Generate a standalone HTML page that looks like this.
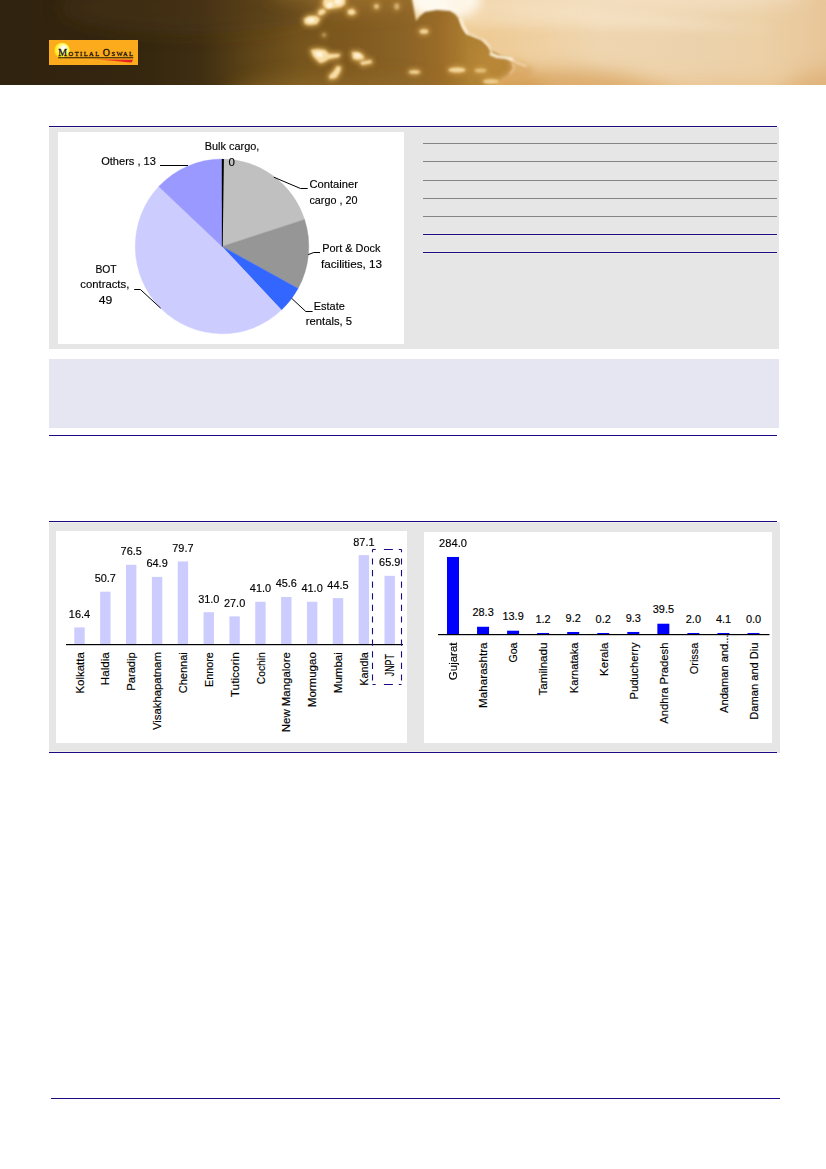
<!DOCTYPE html>
<html><head><meta charset="utf-8"><title>page</title>
<style>
html,body{margin:0;padding:0;background:#fff;}
body{width:826px;height:1169px;position:relative;overflow:hidden;font-family:"Liberation Sans",sans-serif;}
.abs{position:absolute;}
svg{position:absolute;left:0;top:0;}
text{font-family:"Liberation Sans",sans-serif;}
text.lg{font-family:"Liberation Serif",serif;}
</style></head><body>
<svg width="826" height="85" viewBox="0 0 826 85" style="overflow:hidden">
<defs>
<linearGradient id="hg" x1="0" y1="0" x2="826" y2="0" gradientUnits="userSpaceOnUse">
<stop offset="0" stop-color="#30230f"/>
<stop offset="0.12" stop-color="#33250f"/>
<stop offset="0.182" stop-color="#36280f"/>
<stop offset="0.242" stop-color="#3f2e12"/>
<stop offset="0.303" stop-color="#5e4417"/>
<stop offset="0.363" stop-color="#76551d"/>
<stop offset="0.424" stop-color="#7f591f"/>
<stop offset="0.484" stop-color="#8a6226"/>
<stop offset="0.533" stop-color="#9a6c28"/>
<stop offset="0.569" stop-color="#ae8032"/>
<stop offset="0.64" stop-color="#b08234"/>
</linearGradient>
<linearGradient id="sg" x1="0" y1="0" x2="826" y2="0" gradientUnits="userSpaceOnUse">
<stop offset="0.49" stop-color="#f2d29c"/>
<stop offset="0.593" stop-color="#eecb96"/>
<stop offset="0.655" stop-color="#efd0a2"/>
<stop offset="0.727" stop-color="#efd6b0"/>
<stop offset="0.80" stop-color="#eed4ae"/>
<stop offset="0.85" stop-color="#ecd2ac"/>
<stop offset="0.92" stop-color="#ecd0a6"/>
<stop offset="1" stop-color="#e8c699"/>
</linearGradient>
<filter id="b1" x="-20%" y="-20%" width="140%" height="140%"><feGaussianBlur stdDeviation="1.1"/></filter>
<filter id="b2" x="-20%" y="-20%" width="140%" height="140%"><feGaussianBlur stdDeviation="2.5"/></filter>
<filter id="b4" x="-30%" y="-30%" width="160%" height="160%"><feGaussianBlur stdDeviation="5"/></filter>
<filter id="b8" x="-30%" y="-30%" width="160%" height="160%"><feGaussianBlur stdDeviation="9"/></filter>
<filter id="e1" x="0" y="0" width="826" height="85" filterUnits="userSpaceOnUse"><feGaussianBlur stdDeviation="0.9"/></filter>
<mask id="skym" maskUnits="userSpaceOnUse" x="0" y="0" width="826" height="85">
<path filter="url(#e1)" fill="#fff" d="M411,-6 L414,10 L416,21 L420,16 L425,12 L437,10 L450,11 L455,14 L459,19 L462,27 L465,32 L472,36 L481,39 L487,45 L492,51 L500,55 L508,57 L511,62 L513,68 L508,75 L500,80 L488,92 L840,92 L840,-6 Z"/>
</mask>
<radialGradient id="sun" cx="0.5" cy="0.5" r="0.5" fx="0.66" fy="0.28">
<stop offset="0" stop-color="#ffffff"/><stop offset="0.25" stop-color="#fffde0"/><stop offset="0.6" stop-color="#fff780"/><stop offset="0.88" stop-color="#ffe818"/><stop offset="1" stop-color="#fdc41a"/>
</radialGradient>
<linearGradient id="sw" x1="94" y1="0" x2="133" y2="0" gradientUnits="userSpaceOnUse">
<stop offset="0" stop-color="#f58a1c"/><stop offset="0.45" stop-color="#ee3a1e"/><stop offset="1" stop-color="#e31b23"/>
</linearGradient>
</defs>
<rect x="0" y="0" width="826" height="85" fill="url(#hg)"/>
<!-- cloud shading -->
<g filter="url(#b8)">
<ellipse cx="355" cy="-10" rx="85" ry="22" fill="#ac7e32" opacity="0.45"/>
<ellipse cx="190" cy="8" rx="130" ry="26" fill="#4e3a16" opacity="0.4"/>
<ellipse cx="340" cy="96" rx="110" ry="20" fill="#9a742c" opacity="0.45"/>
<ellipse cx="494" cy="62" rx="22" ry="22" fill="#c8923e" opacity="0.38"/>
</g>
<!-- sky -->
<g mask="url(#skym)">
<rect x="400" y="0" width="426" height="85" fill="url(#sg)"/>
<g filter="url(#b8)">
<ellipse cx="560" cy="104" rx="120" ry="34" fill="#d6a05a" opacity="0.8"/>
<ellipse cx="505" cy="92" rx="40" ry="20" fill="#cf9648" opacity="0.6"/>
<ellipse cx="690" cy="102" rx="150" ry="22" fill="#e6b474" opacity="0.45"/>
<ellipse cx="640" cy="-8" rx="170" ry="22" fill="#f6e6cc" opacity="0.55"/>
<ellipse cx="836" cy="98" rx="55" ry="30" fill="#d49a54" opacity="0.4"/>
</g>
<g filter="url(#b4)">
<ellipse cx="445" cy="0" rx="36" ry="20" fill="#fffaf0"/>
<path d="M440,-4 L600,8 L780,30 L600,28 L470,26 Z" fill="#fbecd4" opacity="0.4"/>
</g>
</g>
<!-- wisps -->
<g filter="url(#b2)">
<path d="M508,58 L522,62 L534,70 L528,78 L512,82 L500,86 L496,80 L510,70 Z" fill="#d8a660" opacity="0.65"/>
</g>
<!-- cloud rim light -->
<g filter="url(#b1)" fill="none" stroke="#fdf0d8" stroke-linecap="round" stroke-linejoin="round">
<path d="M460.5,19 L463.5,27 L467.5,33.5" stroke-width="3"/>
<path d="M467.5,33.5 L475,36.5 L483,40 L489,46 L491.5,52" stroke-width="1.8"/>
<path d="M491,54 L497,56.5 L506,57.5 L512,59.5" stroke-width="3"/>
<path d="M512,60 L519,63.5 L526,66" stroke-width="1.5" opacity="0.7"/>
<path d="M513,64 L514,69 L510,74" stroke-width="1.2" opacity="0.5"/>
</g>
<!-- bright spots -->
<g filter="url(#b2)" fill="#dcaa54" opacity="0.75">
<path d="M324,-2 L345,-2 L345,4 L341,7 L335,8 L329,9 L325,8 L323,4 Z" stroke="#dcaa54" stroke-width="4" stroke-linejoin="round"/>
<path d="M319,10 L324,9 L326,12 L322,15 L318,15 Z" stroke="#dcaa54" stroke-width="4" stroke-linejoin="round"/>
<path d="M348,10 L353,9 L356,13 L352,15 L348,14 Z" stroke="#dcaa54" stroke-width="4" stroke-linejoin="round"/>
<path d="M304,19 L309,16 L316,16 L320,19 L317,24 L310,25 L305,24 Z" stroke="#dcaa54" stroke-width="4" stroke-linejoin="round"/>
<path d="M311,50 L318,49 L325,50 L329,54 L340,54 L339,57 L329,59 L324,62 L320,63 L316,59 L313,56 Z" stroke="#dcaa54" stroke-width="4" stroke-linejoin="round"/>
<path d="M352,52 L358,52 L363,55 L364,59 L358,60 L353,59 Z" stroke="#dcaa54" stroke-width="4" stroke-linejoin="round"/>
<path d="M360,62 L371,60 L372,63 L362,65 Z" stroke="#dcaa54" stroke-width="4" stroke-linejoin="round"/>
<path d="M337,66 L341,67 L340,72 L336,78 L330,79 L329,76 L334,71 Z" stroke="#dcaa54" stroke-width="4" stroke-linejoin="round"/>
<ellipse cx="414.5" cy="72" rx="7.5" ry="3.8" opacity="0.9"/>
<ellipse cx="424" cy="31.5" rx="6.2" ry="4.2" opacity="0.9"/>
<ellipse cx="457" cy="70" rx="10.5" ry="4.4" opacity="0.9"/>
<ellipse cx="480.5" cy="70.5" rx="8" ry="4" opacity="0.6"/>
<ellipse cx="491" cy="81.5" rx="10" ry="4.6" opacity="0.75"/>
<ellipse cx="376.5" cy="6.5" rx="4.4" ry="4.4" opacity="0.7"/>
<ellipse cx="396.8" cy="6.5" rx="4.4" ry="5.2" opacity="0.5"/>
<ellipse cx="324" cy="35" rx="4" ry="4" opacity="0.4"/>
</g>
<g filter="url(#b1)" fill="#f9dea4">
<path d="M324,-2 L345,-2 L345,4 L341,7 L335,8 L329,9 L325,8 L323,4 Z"/>
<path d="M319,10 L324,9 L326,12 L322,15 L318,15 Z"/>
<path d="M348,10 L353,9 L356,13 L352,15 L348,14 Z"/>
<path d="M304,19 L309,16 L316,16 L320,19 L317,24 L310,25 L305,24 Z"/>
<path d="M311,50 L318,49 L325,50 L329,54 L340,54 L339,57 L329,59 L324,62 L320,63 L316,59 L313,56 Z"/>
<path d="M352,52 L358,52 L363,55 L364,59 L358,60 L353,59 Z"/>
<path d="M360,62 L371,60 L372,63 L362,65 Z"/>
<path d="M337,66 L341,67 L340,72 L336,78 L330,79 L329,76 L334,71 Z"/>
<ellipse cx="414.5" cy="72" rx="5.5" ry="1.8" opacity="0.9"/>
<ellipse cx="424" cy="31.5" rx="4.2" ry="2.2" opacity="0.9"/>
<ellipse cx="457" cy="70" rx="8.5" ry="2.4" opacity="0.9"/>
<ellipse cx="480.5" cy="70.5" rx="6" ry="2" opacity="0.6"/>
<ellipse cx="491" cy="81.5" rx="8" ry="2.6" opacity="0.75"/>
<ellipse cx="376.5" cy="6.5" rx="2.4" ry="2.4" opacity="0.7"/>
<ellipse cx="396.8" cy="6.5" rx="2.4" ry="3.2" opacity="0.5"/>
<ellipse cx="324" cy="35" rx="2" ry="2" opacity="0.4"/>
</g>
<g filter="url(#b1)" fill="#fff6e0">
<path d="M327,3 L333,2 L332,7 L327,8 Z"/><path d="M335,-1 L342,-1 L341,4 L335,4 Z"/><path d="M315,52 L322,52 L323,57 L317,57 Z"/><path d="M355,54 L360,54 L360,57 L355,57 Z"/><path d="M307,19 L314,18 L314,22 L308,22 Z"/>
</g>
<!-- logo -->
<rect x="49" y="40" width="89" height="25" fill="#fcab1c"/>
<circle cx="62.1" cy="50.4" r="8" fill="url(#sun)"/>
<g fill="#120d06" stroke="#120d06" stroke-width="0.28">
<text class="lg" x="58.3" y="55.75" font-size="10.4" textLength="8.8" lengthAdjust="spacingAndGlyphs">M</text>
<text class="lg" x="68.6" y="55.75" font-size="6.4" textLength="30.5" lengthAdjust="spacing">OTILAL</text>
<text class="lg" x="102.8" y="55.75" font-size="10.4" textLength="7.2" lengthAdjust="spacingAndGlyphs">O</text>
<text class="lg" x="111.5" y="55.75" font-size="6.4" textLength="21.4" lengthAdjust="spacing">SWAL</text>
</g>
<rect x="58.1" y="57.3" width="75.2" height="0.95" fill="#120d06"/>
<path d="M94.4,59.3 L133.1,59.7 L131.5,62.6 C120,61.4 105,60.0 94.4,59.5 Z" fill="url(#sw)"/>
</svg>
<svg width="826" height="1169" viewBox="0 0 826 1169" shape-rendering="crispEdges">
<rect x="49" y="127" width="730" height="222" fill="#e6e6e6"/>
<rect x="49" y="126" width="728" height="1" fill="#1b0a84"/>
<rect x="58" y="132" width="346" height="212" fill="#fff"/>
<rect x="423" y="143" width="354" height="1" fill="#858585"/>
<rect x="423" y="161" width="354" height="1" fill="#858585"/>
<rect x="423" y="180" width="354" height="1" fill="#858585"/>
<rect x="423" y="198" width="354" height="1" fill="#858585"/>
<rect x="423" y="216" width="354" height="1" fill="#858585"/>
<rect x="423" y="234" width="354" height="1" fill="#1b0a84"/>
<rect x="423" y="252" width="354" height="1" fill="#1b0a84"/>
<rect x="49" y="127" width="728" height="1" fill="#f0f0ea"/>
<rect x="423" y="233" width="354" height="1" fill="#efefea"/>
<rect x="423" y="235" width="354" height="1" fill="#efefea"/>
<rect x="423" y="251" width="354" height="1" fill="#efefea"/>
<rect x="423" y="253" width="354" height="1" fill="#efefea"/>
<rect x="49" y="359" width="730" height="69" fill="#e6e6f2"/>
<rect x="49" y="435" width="728" height="1" fill="#1b0a84"/>
<rect x="49" y="522" width="731" height="231" fill="#e6e6e6"/>
<rect x="49" y="521" width="728" height="1" fill="#1b0a84"/>
<rect x="49" y="752" width="728" height="1" fill="#1b0a84"/>
<rect x="49" y="522" width="728" height="1" fill="#f0f0ea"/>
<rect x="49" y="751" width="728" height="1" fill="#f0f0ea"/>
<rect x="56" y="531" width="351" height="212" fill="#fff"/>
<rect x="424" y="532" width="348" height="211" fill="#fff"/>
<rect x="51" y="1098" width="729" height="1" fill="#1b0a84"/>
</svg><svg width="826" height="1169" viewBox="0 0 826 1169">
<path d="M222.00,246.40 L222.00,159.00 A86.8,87.4 0 0 1 304.55,219.39 Z" fill="#c0c0c0" stroke="#c0c0c0" stroke-width="0.4"/>
<path d="M222.00,246.40 L304.55,219.39 A86.8,87.4 0 0 1 298.06,288.51 Z" fill="#969696" stroke="#969696" stroke-width="0.4"/>
<path d="M222.00,246.40 L298.06,288.51 A86.8,87.4 0 0 1 281.42,310.11 Z" fill="#3366ff" stroke="#3366ff" stroke-width="0.4"/>
<path d="M222.00,246.40 L281.42,310.11 A86.8,87.4 0 0 1 158.73,186.57 Z" fill="#ccccff" stroke="#ccccff" stroke-width="0.4"/>
<path d="M222.00,246.40 L158.73,186.57 A86.8,87.4 0 0 1 222.00,159.00 Z" fill="#9999ff" stroke="#9999ff" stroke-width="0.4"/>
<path d="M223.90,159.10 L222.70,246.40 L221.90,246.40 L221.80,159.00 Z" fill="#000"/>
<text x="101.2" y="164.9" font-size="11.5" text-anchor="start" textLength="54.7" lengthAdjust="spacingAndGlyphs" fill="#000" stroke="#000" stroke-width="0.16">Others , 13</text>
<text x="204.8" y="149.9" font-size="11.5" text-anchor="start" textLength="54.5" lengthAdjust="spacingAndGlyphs" fill="#000" stroke="#000" stroke-width="0.16">Bulk cargo,</text>
<text x="228.6" y="165.8" font-size="11.5" text-anchor="start" textLength="6.4" lengthAdjust="spacingAndGlyphs" fill="#000" stroke="#000" stroke-width="0.16">0</text>
<text x="309.4" y="188.1" font-size="11.5" text-anchor="start" textLength="48.5" lengthAdjust="spacingAndGlyphs" fill="#000" stroke="#000" stroke-width="0.16">Container</text>
<text x="309.4" y="203.8" font-size="11.5" text-anchor="start" textLength="48.0" lengthAdjust="spacingAndGlyphs" fill="#000" stroke="#000" stroke-width="0.16">cargo , 20</text>
<text x="322.3" y="252.0" font-size="11.5" text-anchor="start" textLength="58.1" lengthAdjust="spacingAndGlyphs" fill="#000" stroke="#000" stroke-width="0.16">Port &amp; Dock</text>
<text x="321.0" y="267.7" font-size="11.5" text-anchor="start" textLength="61.0" lengthAdjust="spacingAndGlyphs" fill="#000" stroke="#000" stroke-width="0.16">facilities, 13</text>
<text x="313.8" y="310.0" font-size="11.5" text-anchor="start" textLength="31.0" lengthAdjust="spacingAndGlyphs" fill="#000" stroke="#000" stroke-width="0.16">Estate</text>
<text x="305.8" y="325.3" font-size="11.5" text-anchor="start" textLength="46.2" lengthAdjust="spacingAndGlyphs" fill="#000" stroke="#000" stroke-width="0.16">rentals, 5</text>
<text x="95.4" y="272.5" font-size="11.5" text-anchor="start" textLength="21.2" lengthAdjust="spacingAndGlyphs" fill="#000" stroke="#000" stroke-width="0.16">BOT</text>
<text x="80.3" y="288.4" font-size="11.5" text-anchor="start" textLength="49.0" lengthAdjust="spacingAndGlyphs" fill="#000" stroke="#000" stroke-width="0.16">contracts,</text>
<text x="98.7" y="303.9" font-size="11.5" text-anchor="start" textLength="13.6" lengthAdjust="spacingAndGlyphs" fill="#000" stroke="#000" stroke-width="0.16">49</text>
<path d="M160,165.5 L188,165.5" fill="none" stroke="#000" stroke-width="1"/>
<path d="M273.8,177.2 L300.5,188.5 L307.7,188.5" fill="none" stroke="#000" stroke-width="1"/>
<path d="M308.2,254.6 L313.8,252.5 L320,252.5" fill="none" stroke="#000" stroke-width="1"/>
<path d="M291.5,298.2 L305.8,311.5 L312.6,311.5" fill="none" stroke="#000" stroke-width="1"/>
<path d="M134.2,289.5 L140.4,289.5 L160.7,308.2" fill="none" stroke="#000" stroke-width="1"/>
<rect x="74.30" y="627.41" width="10.4" height="17.09" fill="#ccccff"/>
<text x="79.5" y="617.8" font-size="11.5" text-anchor="middle" textLength="21.3" lengthAdjust="spacingAndGlyphs" fill="#000" stroke="#000" stroke-width="0.16">16.4</text>
<text transform="translate(83.5,652.2) rotate(-90)" font-size="11.5" text-anchor="end" textLength="41.4" lengthAdjust="spacingAndGlyphs" fill="#000" stroke="#000" stroke-width="0.16">Kolkatta</text>
<rect x="100.15" y="591.67" width="10.4" height="52.83" fill="#ccccff"/>
<text x="105.3" y="582.1" font-size="11.5" text-anchor="middle" textLength="21.3" lengthAdjust="spacingAndGlyphs" fill="#000" stroke="#000" stroke-width="0.16">50.7</text>
<text transform="translate(109.3,652.2) rotate(-90)" font-size="11.5" text-anchor="end" textLength="33" lengthAdjust="spacingAndGlyphs" fill="#000" stroke="#000" stroke-width="0.16">Haldia</text>
<rect x="126.00" y="564.79" width="10.4" height="79.71" fill="#ccccff"/>
<text x="131.2" y="555.2" font-size="11.5" text-anchor="middle" textLength="21.3" lengthAdjust="spacingAndGlyphs" fill="#000" stroke="#000" stroke-width="0.16">76.5</text>
<text transform="translate(135.2,652.2) rotate(-90)" font-size="11.5" text-anchor="end" textLength="38.6" lengthAdjust="spacingAndGlyphs" fill="#000" stroke="#000" stroke-width="0.16">Paradip</text>
<rect x="151.85" y="576.87" width="10.4" height="67.63" fill="#ccccff"/>
<text x="157.1" y="567.3" font-size="11.5" text-anchor="middle" textLength="21.3" lengthAdjust="spacingAndGlyphs" fill="#000" stroke="#000" stroke-width="0.16">64.9</text>
<text transform="translate(161.1,652.2) rotate(-90)" font-size="11.5" text-anchor="end" textLength="77.8" lengthAdjust="spacingAndGlyphs" fill="#000" stroke="#000" stroke-width="0.16">Visakhapatnam</text>
<rect x="177.70" y="561.45" width="10.4" height="83.05" fill="#ccccff"/>
<text x="182.9" y="551.9" font-size="11.5" text-anchor="middle" textLength="21.3" lengthAdjust="spacingAndGlyphs" fill="#000" stroke="#000" stroke-width="0.16">79.7</text>
<text transform="translate(186.9,652.2) rotate(-90)" font-size="11.5" text-anchor="end" textLength="41" lengthAdjust="spacingAndGlyphs" fill="#000" stroke="#000" stroke-width="0.16">Chennai</text>
<rect x="203.55" y="612.20" width="10.4" height="32.30" fill="#ccccff"/>
<text x="208.8" y="602.6" font-size="11.5" text-anchor="middle" textLength="21.3" lengthAdjust="spacingAndGlyphs" fill="#000" stroke="#000" stroke-width="0.16">31.0</text>
<text transform="translate(212.8,652.2) rotate(-90)" font-size="11.5" text-anchor="end" textLength="34.9" lengthAdjust="spacingAndGlyphs" fill="#000" stroke="#000" stroke-width="0.16">Ennore</text>
<rect x="229.40" y="616.37" width="10.4" height="28.13" fill="#ccccff"/>
<text x="234.6" y="606.8" font-size="11.5" text-anchor="middle" textLength="21.3" lengthAdjust="spacingAndGlyphs" fill="#000" stroke="#000" stroke-width="0.16">27.0</text>
<text transform="translate(238.6,652.2) rotate(-90)" font-size="11.5" text-anchor="end" textLength="45" lengthAdjust="spacingAndGlyphs" fill="#000" stroke="#000" stroke-width="0.16">Tuticorin</text>
<rect x="255.25" y="601.78" width="10.4" height="42.72" fill="#ccccff"/>
<text x="260.5" y="592.2" font-size="11.5" text-anchor="middle" textLength="21.3" lengthAdjust="spacingAndGlyphs" fill="#000" stroke="#000" stroke-width="0.16">41.0</text>
<text transform="translate(264.5,652.2) rotate(-90)" font-size="11.5" text-anchor="end" textLength="32" lengthAdjust="spacingAndGlyphs" fill="#000" stroke="#000" stroke-width="0.16">Cochin</text>
<rect x="281.10" y="596.98" width="10.4" height="47.52" fill="#ccccff"/>
<text x="286.3" y="587.4" font-size="11.5" text-anchor="middle" textLength="21.3" lengthAdjust="spacingAndGlyphs" fill="#000" stroke="#000" stroke-width="0.16">45.6</text>
<text transform="translate(290.3,652.2) rotate(-90)" font-size="11.5" text-anchor="end" textLength="80" lengthAdjust="spacingAndGlyphs" fill="#000" stroke="#000" stroke-width="0.16">New Mangalore</text>
<rect x="306.95" y="601.78" width="10.4" height="42.72" fill="#ccccff"/>
<text x="312.1" y="592.2" font-size="11.5" text-anchor="middle" textLength="21.3" lengthAdjust="spacingAndGlyphs" fill="#000" stroke="#000" stroke-width="0.16">41.0</text>
<text transform="translate(316.1,652.2) rotate(-90)" font-size="11.5" text-anchor="end" textLength="55" lengthAdjust="spacingAndGlyphs" fill="#000" stroke="#000" stroke-width="0.16">Mormugao</text>
<rect x="332.80" y="598.13" width="10.4" height="46.37" fill="#ccccff"/>
<text x="338.0" y="588.5" font-size="11.5" text-anchor="middle" textLength="21.3" lengthAdjust="spacingAndGlyphs" fill="#000" stroke="#000" stroke-width="0.16">44.5</text>
<text transform="translate(342.0,652.2) rotate(-90)" font-size="11.5" text-anchor="end" textLength="41" lengthAdjust="spacingAndGlyphs" fill="#000" stroke="#000" stroke-width="0.16">Mumbai</text>
<rect x="358.65" y="555.10" width="10.4" height="89.40" fill="#ccccff"/>
<text x="363.9" y="545.5" font-size="11.5" text-anchor="middle" textLength="21.3" lengthAdjust="spacingAndGlyphs" fill="#000" stroke="#000" stroke-width="0.16">87.1</text>
<text transform="translate(367.9,652.2) rotate(-90)" font-size="11.5" text-anchor="end" textLength="33.5" lengthAdjust="spacingAndGlyphs" fill="#000" stroke="#000" stroke-width="0.16">Kandla</text>
<rect x="384.50" y="575.83" width="10.4" height="68.67" fill="#ccccff"/>
<text x="389.7" y="566.2" font-size="11.5" text-anchor="middle" textLength="21.3" lengthAdjust="spacingAndGlyphs" fill="#000" stroke="#000" stroke-width="0.16">65.9</text>
<text transform="translate(393.7,654.2) rotate(-90)" font-size="12" text-anchor="end" textLength="22" lengthAdjust="spacingAndGlyphs" fill="#000" stroke="#000" stroke-width="0.16">JNPT</text>
<rect x="66" y="644" width="337" height="1.2" fill="#000"/>
<path d="M372.5,549.5 L372.5,685" fill="none" stroke="#1b0a84" stroke-width="1.1" stroke-dasharray="2.7 6.2 6.2 5.4 6.2 5.4 6.2 5.4 6.2 5.4 6.2 5.4 6.2 5.4 6.2 5.4 6.2 5.4 6.2 5.4 6.2 5.4 6.2 5.4"/>
<path d="M401.5,549.5 L401.5,685" fill="none" stroke="#1b0a84" stroke-width="1.1" stroke-dasharray="2.7 6.2 6.2 5.4 6.2 5.4 6.2 5.4 6.2 5.4 6.2 5.4 6.2 5.4 6.2 5.4 6.2 5.4 6.2 5.4 6.2 5.4 6.2 5.4"/>
<path d="M372.5,549.5 L401.5,549.5" fill="none" stroke="#1b0a84" stroke-width="1.1" stroke-dasharray="3.2 8.2 9 5.8 3"/>
<path d="M372.5,684.5 L401.5,684.5" fill="none" stroke="#1b0a84" stroke-width="1.1" stroke-dasharray="3.2 8.2 9 5.8 3"/>
<rect x="447.00" y="556.97" width="12" height="77.53" fill="#0000ff"/>
<text x="453.0" y="546.6" font-size="11.5" text-anchor="middle" textLength="27.8" lengthAdjust="spacingAndGlyphs" fill="#000" stroke="#000" stroke-width="0.16">284.0</text>
<text transform="translate(457.3,642.5) rotate(-90)" font-size="11.5" text-anchor="end" textLength="37.7" lengthAdjust="spacingAndGlyphs" fill="#000" stroke="#000" stroke-width="0.16">Gujarat</text>
<rect x="477.05" y="626.77" width="12" height="7.73" fill="#0000ff"/>
<text x="483.1" y="616.4" font-size="11.5" text-anchor="middle" textLength="21.2" lengthAdjust="spacingAndGlyphs" fill="#000" stroke="#000" stroke-width="0.16">28.3</text>
<text transform="translate(487.4,642.5) rotate(-90)" font-size="11.5" text-anchor="end" textLength="65.4" lengthAdjust="spacingAndGlyphs" fill="#000" stroke="#000" stroke-width="0.16">Maharashtra</text>
<rect x="507.10" y="630.71" width="12" height="3.79" fill="#0000ff"/>
<text x="513.1" y="620.3" font-size="11.5" text-anchor="middle" textLength="21.2" lengthAdjust="spacingAndGlyphs" fill="#000" stroke="#000" stroke-width="0.16">13.9</text>
<text transform="translate(517.4,642.5) rotate(-90)" font-size="11.5" text-anchor="end" textLength="20" lengthAdjust="spacingAndGlyphs" fill="#000" stroke="#000" stroke-width="0.16">Goa</text>
<rect x="537.15" y="633.00" width="12" height="1.50" fill="#0000ff"/>
<text x="543.1" y="622.6" font-size="11.5" text-anchor="middle" textLength="15.2" lengthAdjust="spacingAndGlyphs" fill="#000" stroke="#000" stroke-width="0.16">1.2</text>
<text transform="translate(547.4,642.5) rotate(-90)" font-size="11.5" text-anchor="end" textLength="53" lengthAdjust="spacingAndGlyphs" fill="#000" stroke="#000" stroke-width="0.16">Tamilnadu</text>
<rect x="567.20" y="631.99" width="12" height="2.51" fill="#0000ff"/>
<text x="573.2" y="621.6" font-size="11.5" text-anchor="middle" textLength="15.2" lengthAdjust="spacingAndGlyphs" fill="#000" stroke="#000" stroke-width="0.16">9.2</text>
<text transform="translate(577.5,642.5) rotate(-90)" font-size="11.5" text-anchor="end" textLength="50.7" lengthAdjust="spacingAndGlyphs" fill="#000" stroke="#000" stroke-width="0.16">Karnataka</text>
<rect x="597.25" y="633.00" width="12" height="1.50" fill="#0000ff"/>
<text x="603.2" y="622.6" font-size="11.5" text-anchor="middle" textLength="15.2" lengthAdjust="spacingAndGlyphs" fill="#000" stroke="#000" stroke-width="0.16">0.2</text>
<text transform="translate(607.5,642.5) rotate(-90)" font-size="11.5" text-anchor="end" textLength="33.4" lengthAdjust="spacingAndGlyphs" fill="#000" stroke="#000" stroke-width="0.16">Kerala</text>
<rect x="627.30" y="631.96" width="12" height="2.54" fill="#0000ff"/>
<text x="633.3" y="621.6" font-size="11.5" text-anchor="middle" textLength="15.2" lengthAdjust="spacingAndGlyphs" fill="#000" stroke="#000" stroke-width="0.16">9.3</text>
<text transform="translate(637.6,642.5) rotate(-90)" font-size="11.5" text-anchor="end" textLength="57" lengthAdjust="spacingAndGlyphs" fill="#000" stroke="#000" stroke-width="0.16">Puducherry</text>
<rect x="657.35" y="623.72" width="12" height="10.78" fill="#0000ff"/>
<text x="663.4" y="613.3" font-size="11.5" text-anchor="middle" textLength="21.2" lengthAdjust="spacingAndGlyphs" fill="#000" stroke="#000" stroke-width="0.16">39.5</text>
<text transform="translate(667.6,642.5) rotate(-90)" font-size="11.5" text-anchor="end" textLength="81.3" lengthAdjust="spacingAndGlyphs" fill="#000" stroke="#000" stroke-width="0.16">Andhra Pradesh</text>
<rect x="687.40" y="633.00" width="12" height="1.50" fill="#0000ff"/>
<text x="693.4" y="622.6" font-size="11.5" text-anchor="middle" textLength="15.2" lengthAdjust="spacingAndGlyphs" fill="#000" stroke="#000" stroke-width="0.16">2.0</text>
<text transform="translate(697.7,642.5) rotate(-90)" font-size="11.5" text-anchor="end" textLength="31.8" lengthAdjust="spacingAndGlyphs" fill="#000" stroke="#000" stroke-width="0.16">Orissa</text>
<rect x="717.45" y="633.00" width="12" height="1.50" fill="#0000ff"/>
<text x="723.5" y="622.6" font-size="11.5" text-anchor="middle" textLength="15.2" lengthAdjust="spacingAndGlyphs" fill="#000" stroke="#000" stroke-width="0.16">4.1</text>
<text transform="translate(727.8,634.6) rotate(-90)" font-size="11.5" text-anchor="end" textLength="78.3" lengthAdjust="spacingAndGlyphs" fill="#000" stroke="#000" stroke-width="0.16">Andaman and...</text>
<rect x="747.50" y="633.00" width="12" height="1.50" fill="#0000ff"/>
<text x="753.5" y="622.6" font-size="11.5" text-anchor="middle" textLength="15.2" lengthAdjust="spacingAndGlyphs" fill="#000" stroke="#000" stroke-width="0.16">0.0</text>
<text transform="translate(757.8,642.5) rotate(-90)" font-size="11.5" text-anchor="end" textLength="77.2" lengthAdjust="spacingAndGlyphs" fill="#000" stroke="#000" stroke-width="0.16">Daman and Diu</text>
<rect x="438" y="634" width="331.5" height="1.2" fill="#000"/>
</svg>
</body></html>
